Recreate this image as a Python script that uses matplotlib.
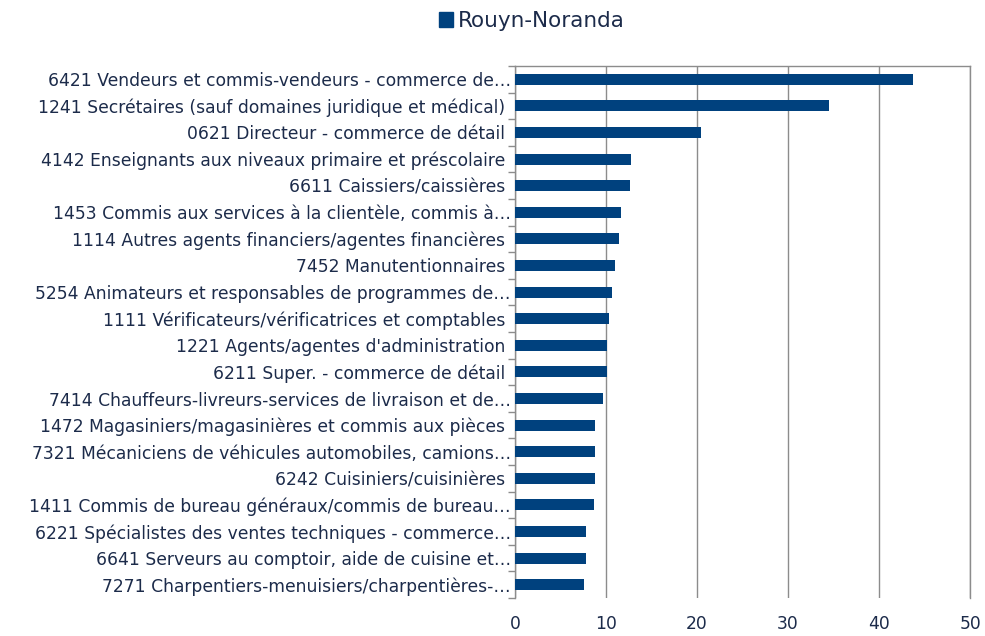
import matplotlib
matplotlib.use("Agg")
import matplotlib.pyplot as plt
from matplotlib.patches import Patch

categories = [
    "6421 Vendeurs et commis-vendeurs - commerce de…",
    "1241 Secrétaires (sauf domaines juridique et médical) ",
    "0621 Directeur - commerce de détail ",
    "4142 Enseignants aux niveaux primaire et préscolaire ",
    "6611 Caissiers/caissières ",
    "1453 Commis aux services à la clientèle, commis à…",
    "1114 Autres agents financiers/agentes financières ",
    "7452 Manutentionnaires ",
    "5254 Animateurs et responsables de programmes de…",
    "1111 Vérificateurs/vérificatrices et comptables ",
    "1221 Agents/agentes d'administration ",
    "6211 Super. - commerce de détail ",
    "7414 Chauffeurs-livreurs-services de livraison et de…",
    "1472 Magasiniers/magasinières et commis aux pièces ",
    "7321 Mécaniciens de véhicules automobiles, camions…",
    "6242 Cuisiniers/cuisinières ",
    "1411 Commis de bureau généraux/commis de bureau…",
    "6221 Spécialistes des ventes techniques - commerce…",
    "6641 Serveurs au comptoir, aide de cuisine et…",
    "7271 Charpentiers-menuisiers/charpentières-…",
]
values = [43.7, 34.5, 20.4, 12.8, 12.6, 11.6, 11.4, 11.0, 10.7, 10.3,
          10.1, 10.1, 9.7, 8.8, 8.8, 8.8, 8.65, 7.8, 7.8, 7.6]
series_name = "Rouyn-Noranda"
x_ticks = [0, 10, 20, 30, 40, 50]

bar_color = "#00417E"
text_color = "#1C2B4A"
grid_color = "#8C8C8C"

fig = plt.figure(figsize=(9.85, 6.36), dpi=100)
ax = fig.add_axes([515/985, 1-598/636, (970-515)/985, (598-66)/636])

n = len(categories)
ypos = list(range(n))
ax.barh(ypos, values, height=0.42, color=bar_color, zorder=3)
ax.set_ylim(n - 0.5, -0.5)
ax.set_xlim(0, 50)
ax.set_xticks(x_ticks)
ax.set_xticklabels([str(t) for t in x_ticks])

ax.set_yticks(ypos)
ax.set_yticklabels(categories)
ax.set_yticks([i - 0.5 for i in range(n + 1)], minor=True)
ax.tick_params(axis="y", which="major", length=0, pad=3, labelsize=12.3,
               labelcolor=text_color)
ax.tick_params(axis="y", which="minor", length=5, width=1, color=grid_color)
ax.tick_params(axis="x", length=0, pad=12, labelsize=12.3, labelcolor=text_color)

ax.grid(axis="x", color=grid_color, linewidth=1, zorder=0)
ax.spines["bottom"].set_visible(False)
for s in ["left", "top", "right"]:
    ax.spines[s].set_color(grid_color)
    ax.spines[s].set_linewidth(1)

handle = Patch(facecolor=bar_color, edgecolor=bar_color)
fig.legend([handle], [series_name], loc="center", bbox_to_anchor=(532/985, 1-21/636),
           frameon=False, fontsize=15.5, handlelength=0.65, handleheight=0.65,
           handletextpad=0.25, labelcolor=text_color)

fig.savefig("out.png", dpi=100)
